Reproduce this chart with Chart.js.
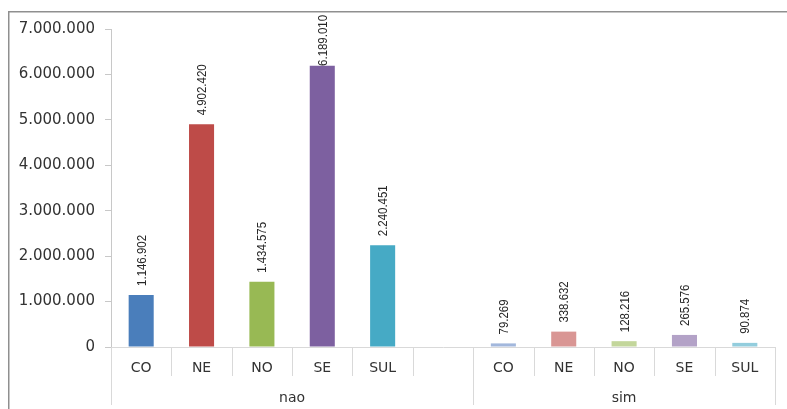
<!DOCTYPE html>
<html>
<head>
<meta charset="utf-8">
<script src="https://cdn.jsdelivr.net/npm/chart.js@4"></script>
<style>
  body { margin: 0; background: #fff; }
  #wrap { position: relative; width: 787px; height: 409px; }
</style>
</head>
<body>
<div id="wrap"><canvas id="regiaoChart"></canvas></div>
<script>
// Regions and the two answer groups
const regions = ['CO', 'NE', 'NO', 'SE', 'SUL'];
const groups = ['nao', 'sim'];
const naoValues = [1146902, 4902420, 1434575, 6189010, 2240451];
const simValues = [79269, 338632, 128216, 265576, 90874];
const naoColors = ['#4a7ebb', '#be4b48', '#98b954', '#7d60a0', '#46aac5'];
const simColors = ['#a2b7dc', '#d99694', '#c3d69b', '#b3a2c7', '#93cddd'];
const yTicks = [0, 1000000, 2000000, 3000000, 4000000, 5000000, 6000000, 7000000];

// One blank slot closes the "nao" group
const categories = [...regions, '', ...regions];
const values = [...naoValues, null, ...simValues];
const colors = [...naoColors, 'rgba(0,0,0,0)', ...simColors];
const groupSpans = [[0, 5], [6, 10]];

// 1234567 -> "1.234.567"
function fmt(v) {
    return String(v).replace(/\B(?=(\d{3})+(?!\d))/g, '.');
}

// Axis decorations, value labels and the outer frame
const decorations = {
    id: 'decorations',
    afterDraw(chart) {
        const ctx = chart.ctx;
        const x = chart.scales.x;
        const area = chart.chartArea;
        const half = (x.getPixelForValue(1) - x.getPixelForValue(0)) / 2;
        const base = area.bottom;

        ctx.save();
        // short separators between categories
        ctx.strokeStyle = '#d9d9d9';
        ctx.lineWidth = 1;
        for (let i = 0; i <= categories.length; i++) {
            const px = Math.round(x.getPixelForValue(i) - half) + 0.5;
            ctx.beginPath();
            ctx.moveTo(px, base);
            ctx.lineTo(px, base + 29);
            ctx.stroke();
        }
        // long separators around each group
        groupSpans.forEach(([a, b]) => {
            [a, b + 1].forEach(i => {
                const px = Math.round(x.getPixelForValue(i) - half) + 0.5;
                ctx.beginPath();
                ctx.moveTo(px, base);
                ctx.lineTo(px, base + 58);
                ctx.stroke();
            });
        });

        // category and group labels
        ctx.fillStyle = '#333';
        ctx.textAlign = 'center';
        ctx.textBaseline = 'alphabetic';
        ctx.font = '14px "DejaVu Sans"';
        categories.forEach((c, i) => {
            ctx.fillText(c, x.getPixelForValue(i), base + 25);
        });
        groupSpans.forEach(([a, b], g) => {
            const cx = (x.getPixelForValue(a) + x.getPixelForValue(b)) / 2;
            ctx.fillText(groups[g], cx, base + 55);
        });

        // rotated value labels above the bars, squeezed along the text,
        // kept inside the frame
        const squeeze = 0.88;
        ctx.font = '13px "Liberation Sans"';
        ctx.textAlign = 'left';
        ctx.textBaseline = 'middle';
        ctx.fillStyle = '#262626';
        const meta = chart.getDatasetMeta(0);
        meta.data.forEach((bar, i) => {
            if (values[i] == null) return;
            const text = fmt(values[i]);
            const w = ctx.measureText(text).width * squeeze;
            const startY = Math.max(bar.y - 9, area.top - 14 + w);
            ctx.save();
            ctx.translate(bar.x + 1, startY);
            ctx.rotate(-Math.PI / 2);
            ctx.scale(squeeze, 1);
            ctx.fillText(text, 0, 0);
            ctx.restore();
        });

        // outer frame (left and top edges)
        ctx.strokeStyle = '#8f8f8f';
        ctx.lineWidth = 1.5;
        ctx.beginPath();
        ctx.moveTo(8.75, chart.height);
        ctx.lineTo(8.75, 11.75);
        ctx.lineTo(chart.width, 11.75);
        ctx.stroke();
        ctx.restore();
    }
};

new Chart(document.getElementById('regiaoChart'), {
    type: 'bar',
    data: {
        labels: categories,
        datasets: [{
            data: values,
            backgroundColor: colors,
            barPercentage: 0.415,
            categoryPercentage: 1
        }]
    },
    options: {
        responsive: true,
        maintainAspectRatio: false,
        animation: false,
        layout: { padding: { left: 0, right: 12, top: 29, bottom: 0 } },
        plugins: { legend: { display: false }, tooltip: { enabled: false } },
        scales: {
            x: {
                grid: { display: false },
                ticks: { display: false },
                border: { color: '#d9d9d9' },
                afterFit(scale) { scale.height = 62; }
            },
            y: {
                min: 0,
                max: 7000000,
                afterBuildTicks(scale) {
                    scale.ticks = yTicks.map(v => ({ value: v }));
                },
                grid: { drawOnChartArea: false, drawTicks: true, tickLength: 6, color: '#c8c8c8' },
                border: { color: '#c8c8c8' },
                ticks: {
                    padding: 10,
                    color: '#333',
                    font: { family: 'DejaVu Sans', size: 15 },
                    callback: v => fmt(v)
                },
                afterFit(scale) { scale.width = 111; }
            }
        }
    },
    plugins: [decorations]
});
</script>
</body>
</html>
